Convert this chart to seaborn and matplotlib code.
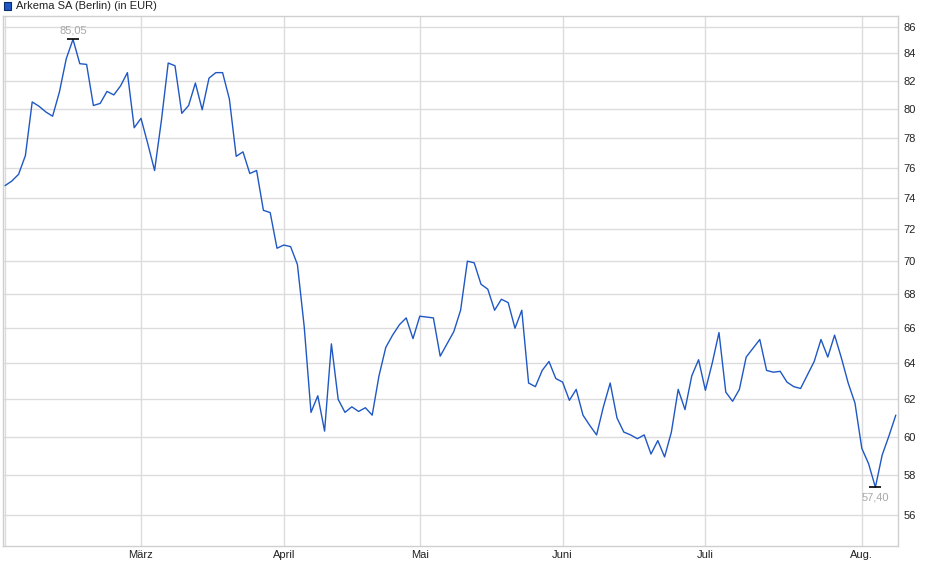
import numpy as np
import pandas as pd
import seaborn as sns
import matplotlib.pyplot as plt
from matplotlib.patches import Rectangle
from matplotlib.ticker import FixedLocator, NullLocator, FixedFormatter

# Arkema SA (Berlin), daily closes, Feb - Aug, in EUR
prices = [
    74.8, 75.1, 75.55, 76.8, 80.5, 80.2, 79.8, 79.5, 81.2, 83.6,
    85.05, 83.25, 83.2, 80.25, 80.4, 81.25, 81.0, 81.65, 82.6, 78.7,
    79.35, 77.6, 75.8, 79.2, 83.3, 83.1, 79.7, 80.25, 81.85, 79.95,
    82.2, 82.6, 82.6, 80.7, 76.75, 77.05, 75.6, 75.8, 73.2, 73.05,
    70.8, 71.0, 70.9, 69.8, 66.1, 61.3, 62.2, 60.3, 65.1, 62.0,
    61.3, 61.6, 61.35, 61.55, 61.15, 63.3, 64.9, 65.6, 66.2, 66.6,
    65.4, 66.7, 66.65, 66.6, 64.4, 65.1, 65.8, 67.05, 70.0, 69.9,
    68.6, 68.3, 67.05, 67.7, 67.5, 66.0, 67.05, 62.9, 62.7, 63.6,
    64.1, 63.15, 62.95, 61.95, 62.55, 61.15, 60.6, 60.1, 61.6, 62.9,
    61.0, 60.25, 60.1, 59.9, 60.1, 59.1, 59.8, 58.95, 60.25, 62.55,
    61.45, 63.3, 64.2, 62.5, 64.0, 65.75, 62.4, 61.9, 62.55, 64.35,
    64.85, 65.35, 63.6, 63.5, 63.55, 62.95, 62.7, 62.6, 63.35, 64.1,
    65.35, 64.35, 65.6, 64.3, 62.9, 61.8, 59.4, 58.6, 57.4, 59.05,
    60.05, 61.15,
]
# first trading day of each month (index into prices)
month_pos = [0, 20, 41, 61, 82, 103, 126]
month_labels = ['', 'März', 'April', 'Mai', 'Juni', 'Juli', 'Aug.']
y_ticks = [56, 58, 60, 62, 64, 66, 68, 70, 72, 74, 76, 78, 80, 82, 84, 86]

sns.set_theme(style='white')
plt.rcParams['font.family'] = ['Liberation Sans', 'DejaVu Sans']

df = pd.DataFrame({'day': np.arange(len(prices)), 'price': prices})

fig = plt.figure(figsize=(9.4, 5.79), dpi=100)
ax = fig.add_axes([3 / 940, 33.3 / 579, 895.3 / 940, 529.7 / 579])

sns.lineplot(data=df, x='day', y='price', ax=ax, color='#1f58c4',
             linewidth=1.0)

ax.set_yscale('log')
ax.set_ylim(54.53, 86.81)
ax.set_xlim(-0.294, 131.37)

ax.yaxis.set_major_locator(FixedLocator(y_ticks))
ax.yaxis.set_major_formatter(FixedFormatter([str(v) for v in y_ticks]))
ax.yaxis.set_minor_locator(NullLocator())
ax.yaxis.tick_right()
ax.set_xticks(month_pos)
ax.set_xticklabels(month_labels)
ax.tick_params(axis='both', length=0, labelsize=8, colors='#222222')
ax.tick_params(axis='y', pad=4)
ax.tick_params(axis='x', pad=3)
ax.grid(True, color='#dcdcdc', linewidth=1.0)
ax.set_xlabel('')
ax.set_ylabel('')
for sp in ax.spines.values():
    sp.set_color('#cfcfcf')
    sp.set_linewidth(1.0)

# high / low markers
hi = int(np.argmax(prices))
lo = int(np.argmin(prices))
ax.plot([hi], [prices[hi]], marker='_', color='black', markersize=9,
        markeredgewidth=1.2)
ax.plot([lo], [prices[lo]], marker='_', color='black', markersize=9,
        markeredgewidth=1.2)
ax.annotate(f'{prices[hi]:.2f}'.replace('.', ','), (hi, prices[hi]),
            xytext=(0, 3), textcoords='offset points', ha='center',
            va='bottom', fontsize=8, color='#a8a8a8')
ax.annotate(f'{prices[lo]:.2f}'.replace('.', ','), (lo, prices[lo]),
            xytext=(0, -4), textcoords='offset points', ha='center',
            va='top', fontsize=8, color='#a8a8a8')

# legend entry top left
fig.patches.append(Rectangle((4 / 940, 1 - 10 / 579), 7 / 940, 8 / 579,
                             transform=fig.transFigure,
                             facecolor='#1f58c4', edgecolor='#0a2a6a',
                             linewidth=0.8))
fig.text(16 / 940, 1 - 6 / 579, 'Arkema SA (Berlin) (in EUR)', fontsize=8,
         color='#222222', va='center', ha='left')

fig.savefig('out.png', dpi=100)
